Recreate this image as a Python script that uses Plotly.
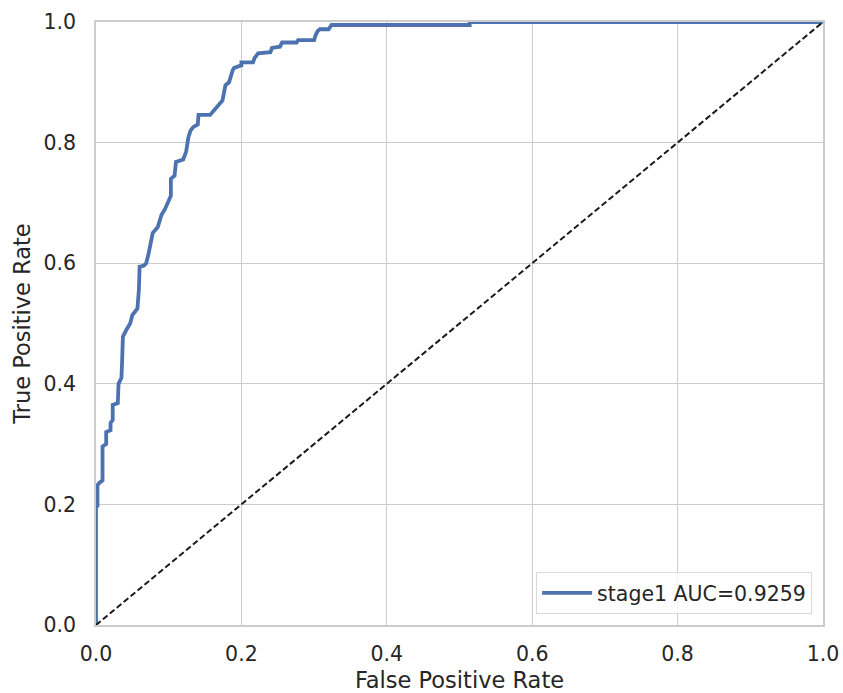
import plotly.graph_objects as go

# ROC curve points (false positive rate, true positive rate)
fpr = [0.0, 0.0, 0.002, 0.002, 0.005, 0.009, 0.009, 0.014, 0.014, 0.020,
       0.020, 0.023, 0.023, 0.030, 0.031, 0.035, 0.036, 0.037, 0.042, 0.047,
       0.050, 0.053, 0.057, 0.059, 0.060, 0.066, 0.069, 0.072, 0.075, 0.078,
       0.085, 0.090, 0.095, 0.100, 0.103, 0.103, 0.108, 0.110, 0.120, 0.124,
       0.127, 0.130, 0.134, 0.140, 0.141, 0.157, 0.163, 0.170, 0.174, 0.178,
       0.183, 0.188, 0.190, 0.200, 0.200, 0.216, 0.218, 0.223, 0.240, 0.242,
       0.253, 0.256, 0.276, 0.278, 0.300, 0.302, 0.305, 0.308, 0.320, 0.324,
       0.514, 0.514, 1.0]
tpr = [0.0, 0.198, 0.198, 0.232, 0.236, 0.240, 0.296, 0.300, 0.320, 0.323,
       0.335, 0.340, 0.365, 0.368, 0.400, 0.410, 0.440, 0.478, 0.490, 0.500,
       0.514, 0.520, 0.525, 0.556, 0.594, 0.596, 0.600, 0.614, 0.630, 0.650,
       0.660, 0.680, 0.690, 0.705, 0.712, 0.740, 0.745, 0.768, 0.772, 0.785,
       0.808, 0.820, 0.826, 0.830, 0.846, 0.846, 0.855, 0.865, 0.870, 0.895,
       0.900, 0.920, 0.924, 0.928, 0.933, 0.933, 0.940, 0.948, 0.950, 0.957,
       0.959, 0.966, 0.966, 0.970, 0.970, 0.978, 0.985, 0.988, 0.988, 0.995,
       0.995, 1.0, 1.0]
auc_value = 0.9259
model_name = "stage1"

ticks = [0.0, 0.2, 0.4, 0.6, 0.8, 1.0]
tick_text = ["0.0", "0.2", "0.4", "0.6", "0.8", "1.0"]

text_color = "#262626"
grid_color = "#cccccc"
font_family = "DejaVu Sans"
tick_size = 20.5
title_size = 22.5

fig = go.Figure()

fig.add_trace(go.Scatter(
    x=fpr, y=tpr, mode="lines",
    name=f"{model_name} AUC={auc_value:.4f}",
    line=dict(color="#4c72b0", width=3.8),
))

# chance diagonal
fig.add_trace(go.Scatter(
    x=[0, 1], y=[0, 1], mode="lines", showlegend=False,
    line=dict(color="#1a1a1a", width=2, dash="6px,3px"),
))

axis_common = dict(
    range=[0, 1],
    tickvals=ticks,
    ticktext=tick_text,
    showgrid=True,
    gridcolor=grid_color,
    gridwidth=1.3,
    showline=True,
    linecolor=grid_color,
    linewidth=1.8,
    mirror=True,
    zeroline=False,
    ticks="",
    automargin=False,
    tickfont=dict(size=tick_size, color=text_color, family=font_family),
    title_font=dict(size=title_size, color=text_color, family=font_family),
)

fig.update_xaxes(**axis_common, title_text="False Positive Rate",
                 ticklabelstandoff=9, title_standoff=14)
fig.update_yaxes(**axis_common, title_text="True Positive Rate",
                 ticklabelstandoff=14, title_standoff=7)

fig.update_layout(
    width=843, height=693,
    margin=dict(l=96, r=20, t=22, b=68),
    plot_bgcolor="white",
    paper_bgcolor="white",
    font=dict(family=font_family, color=text_color),
    legend=dict(
        x=0.985, y=0.018, xanchor="right", yanchor="bottom",
        bgcolor="rgba(255,255,255,0.8)",
        bordercolor="#d9d9d9", borderwidth=1,
        itemwidth=50,
        font=dict(size=tick_size, color=text_color, family=font_family),
    ),
)

fig.write_html("out.html")
